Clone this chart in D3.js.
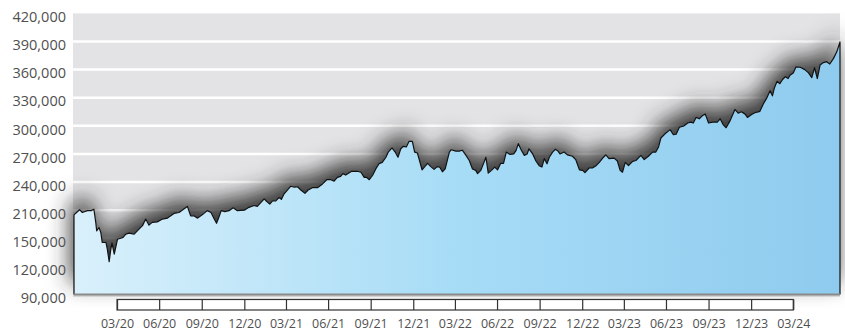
<!DOCTYPE html>
<html>
<head>
<meta charset="utf-8">
<script src="https://cdn.jsdelivr.net/npm/d3@7"></script>
<style>
  html, body { margin: 0; padding: 0; background: #fff; }
  svg { display: block; }
  text { font-family: "Open Sans", "Noto Sans", sans-serif; }
</style>
</head>
<body>
<svg id="chart" width="845" height="331"></svg>
<script>
// ---- data ----
const dates = [
"2019-12-29","2020-01-10","2020-01-16","2020-01-27","2020-02-04","2020-02-10","2020-02-14","2020-02-16","2020-02-21","2020-02-25",
"2020-02-28","2020-03-07","2020-03-10","2020-03-14","2020-03-17","2020-03-20","2020-03-25","2020-04-01","2020-04-08","2020-04-13",
"2020-04-19","2020-04-26","2020-05-07","2020-05-18","2020-05-25","2020-06-01","2020-06-08","2020-06-15","2020-06-26","2020-07-07",
"2020-07-18","2020-07-25","2020-08-01","2020-08-12","2020-08-23","2020-08-30","2020-09-06","2020-09-13","2020-09-21","2020-10-01",
"2020-10-12","2020-10-20","2020-10-27","2020-11-01","2020-11-06","2020-11-11","2020-11-19","2020-11-28","2020-12-07","2020-12-16",
"2020-12-31","2021-01-10","2021-01-21","2021-01-28","2021-02-12","2021-02-17","2021-02-24","2021-03-02","2021-03-09","2021-03-16",
"2021-03-21","2021-03-27","2021-04-03","2021-04-10","2021-04-18","2021-04-25","2021-05-02","2021-05-11","2021-05-18","2021-05-27",
"2021-06-07","2021-06-18","2021-06-27","2021-07-06","2021-07-13","2021-07-20","2021-07-27","2021-08-01","2021-08-07","2021-08-13",
"2021-08-20","2021-09-01","2021-09-09","2021-09-16","2021-09-21","2021-09-27","2021-10-04","2021-10-11","2021-10-18","2021-10-25",
"2021-11-02","2021-11-07","2021-11-15","2021-11-22","2021-11-28","2021-12-04","2021-12-09","2021-12-16","2021-12-22","2021-12-29",
"2022-01-03","2022-01-09","2022-01-19","2022-01-24","2022-01-31","2022-02-07","2022-02-14","2022-02-21","2022-02-26","2022-03-04",
"2022-03-10","2022-03-19","2022-03-23","2022-04-02","2022-04-09","2022-04-16","2022-04-24","2022-05-01","2022-05-08","2022-05-15",
"2022-05-19","2022-05-26","2022-06-06","2022-06-11","2022-06-18","2022-06-25","2022-07-01","2022-07-08","2022-07-14","2022-07-20",
"2022-07-28","2022-08-05","2022-08-10","2022-08-15","2022-08-21","2022-08-28","2022-09-03","2022-09-07","2022-09-15","2022-09-22",
"2022-09-29","2022-10-05","2022-10-10","2022-10-16","2022-10-21","2022-10-28","2022-11-03","2022-11-08","2022-11-13","2022-11-22",
"2022-11-29","2022-12-10","2022-12-17","2022-12-25","2023-01-01","2023-01-06","2023-01-15","2023-01-22","2023-01-30","2023-02-06",
"2023-02-15","2023-02-20","2023-02-27","2023-03-10","2023-03-17","2023-03-23","2023-03-28","2023-04-03","2023-04-10","2023-04-19",
"2023-04-26","2023-05-07","2023-05-14","2023-05-23","2023-06-01","2023-06-08","2023-06-14","2023-06-19","2023-06-28","2023-07-09",
"2023-07-16","2023-07-22","2023-07-29","2023-08-08","2023-08-16","2023-08-23","2023-08-28","2023-09-03","2023-09-10","2023-09-17",
"2023-09-23","2023-09-30","2023-10-09","2023-10-19","2023-10-25","2023-11-01","2023-11-07","2023-11-15","2023-11-26","2023-12-03",
"2023-12-10","2023-12-18","2023-12-23","2024-01-01","2024-01-08","2024-01-19","2024-01-26","2024-02-02","2024-02-10","2024-02-15",
"2024-02-19","2024-02-25","2024-03-02","2024-03-08","2024-03-14","2024-03-20","2024-03-24","2024-03-31","2024-04-06","2024-04-15",
"2024-04-25","2024-05-03","2024-05-10","2024-05-16","2024-05-22","2024-05-28","2024-06-04","2024-06-11","2024-06-18","2024-06-26",
"2024-07-03","2024-07-10"
];
const values = [
205000,210500,207500,209500,209500,211000,197000,188000,191500,186000,
175500,175500,168500,155000,166500,175000,163000,179000,180000,181000,
184500,185500,184500,190000,193500,200500,194000,197000,197500,200500,
201500,204000,206500,207500,211500,214000,204000,204000,201500,205000,
209500,207500,200500,196000,202500,209500,208500,209500,212500,209500,
210000,213000,215000,214000,222000,219500,216500,220000,220000,223500,
221500,227500,231500,235500,234500,235000,231500,228000,231500,234000,
234000,238000,242500,242500,241000,245000,246000,249000,247500,249500,
251500,251500,250500,245000,245000,242500,247000,254000,259500,261000,
266500,272000,276500,272000,266500,275500,278000,277500,283500,283500,
272000,271000,253000,256000,260000,256500,253500,256500,256000,251000,
254000,272000,274500,273000,273000,274000,268500,263000,254000,252500,
249000,252500,266500,249500,252500,256000,253000,260000,260000,272000,
269500,270000,273500,281000,274500,268500,270000,275500,270000,262500,
257500,256000,265000,259500,266500,272000,275000,273500,270000,272000,
269000,267500,264000,253000,252500,250000,255000,255000,257500,261000,
266500,269000,265000,265500,262500,252500,250500,261000,257500,262000,
263000,268500,264000,267500,272000,272000,277500,287000,291500,296000,
290500,291000,298500,300000,303000,304000,303000,309000,307500,311000,
312500,303000,304000,304000,307500,301000,298000,305000,317500,313500,
315000,312500,309000,312000,314000,315500,323000,329000,337500,332000,
340000,347500,345000,349500,352500,350500,354000,356500,363000,362500,
360000,356500,351500,362000,350500,365000,367500,368500,366000,372000,
379000,389500
];
const yTickValues = [120000,150000,180000,210000,240000,270000,300000,330000,360000,390000,420000];
const yTickLabels = ["90,000","120,000","150,000","210,000","240,000","270,000","300,000","330,000","360,000","390,000","420,000"];
const xTickDates = ["2020-03-31","2020-06-30","2020-09-30","2020-12-31","2021-03-31","2021-06-30","2021-09-30","2021-12-31",
  "2022-03-31","2022-06-30","2022-09-30","2022-12-31","2023-03-31","2023-06-30","2023-09-30","2023-12-31","2024-03-31"];
const xTickLabels = ["03/20","06/20","09/20","12/20","03/21","06/21","09/21","12/21",
  "03/22","06/22","09/22","12/22","03/23","06/23","09/23","12/23","03/24"];

// ---- build ----
const parse = d3.timeParse("%Y-%m-%d");
const data = dates.map((d, i) => ({ date: parse(d), value: values[i] }));
const ticksX = xTickDates.map(parse);

const svg = d3.select("#chart");
const plotLeft = 74, plotRight = 840, plotTop = 13.4, plotBottom = 294.5;

const x = d3.scaleTime().domain(d3.extent(data, d => d.date)).range([plotLeft, plotRight]);
const y = d3.scaleLinear().domain([120000, 420000]).range([plotBottom, plotTop]);

const defs = svg.append("defs");
const grad = defs.append("linearGradient").attr("id", "areaGrad")
  .attr("x1", "0%").attr("x2", "100%").attr("y1", "0%").attr("y2", "0%");
grad.append("stop").attr("offset", "0%").attr("stop-color", "#d9f0fb");
grad.append("stop").attr("offset", "50%").attr("stop-color", "#a7dcf6");
grad.append("stop").attr("offset", "100%").attr("stop-color", "#8fcbee");

const f = defs.append("filter").attr("id", "shadow")
  .attr("x", "-10%").attr("y", "-50%").attr("width", "120%").attr("height", "200%");
f.append("feGaussianBlur").attr("in", "SourceAlpha").attr("stdDeviation", 11).attr("result", "blur");
f.append("feOffset").attr("in", "blur").attr("dx", -3).attr("dy", -12).attr("result", "off");
f.append("feFlood").attr("flood-color", "#2e2e2e").attr("flood-opacity", 0.95).attr("result", "col");
f.append("feComposite").attr("in", "col").attr("in2", "off").attr("operator", "in").attr("result", "sh");
const fm = f.append("feMerge");
fm.append("feMergeNode").attr("in", "sh");
fm.append("feMergeNode").attr("in", "SourceGraphic");

// background band
svg.append("rect")
  .attr("x", plotLeft - 1).attr("y", plotTop)
  .attr("width", plotRight - plotLeft + 1).attr("height", plotBottom - plotTop + 2.5)
  .attr("fill", "#e3e3e5");

// white gridlines
svg.append("g").selectAll("line")
  .data(yTickValues.slice(1, -1))
  .join("line")
  .attr("x1", plotLeft - 1).attr("x2", plotRight)
  .attr("y1", d => y(d)).attr("y2", d => y(d))
  .attr("stroke", "#fff").attr("stroke-width", 2.5);

// area with shadow
const area = d3.area().x(d => x(d.date)).y0(plotBottom).y1(d => y(d.value)).curve(d3.curveLinear);
svg.append("path").datum(data)
  .attr("d", area)
  .attr("fill", "url(#areaGrad)")
  .attr("filter", "url(#shadow)");

// outline
const outline = d3.line().x(d => x(d.date)).y(d => y(d.value));
const first = data[0], last = data[data.length - 1];
svg.append("path")
  .attr("d", "M" + x(first.date) + "," + plotBottom + "L" + outline(data).slice(1) + "L" + x(last.date) + "," + plotBottom)
  .attr("fill", "none").attr("stroke", "#111").attr("stroke-width", 1.2).attr("stroke-linejoin", "round");

// baseline
svg.append("line")
  .attr("x1", plotLeft).attr("x2", plotRight)
  .attr("y1", plotBottom).attr("y2", plotBottom)
  .attr("stroke", "#8a8a8a").attr("stroke-width", 2);

// y axis labels
const yAxis = d3.axisLeft(y).tickValues(yTickValues)
  .tickFormat((d, i) => yTickLabels[i]).tickSize(0).tickPadding(0);
const gy = svg.append("g").attr("transform", "translate(66,3.6)").call(yAxis);
gy.select(".domain").remove();
gy.selectAll("text").attr("font-family", "'Open Sans', sans-serif").attr("font-size", "14.5px").attr("fill", "#505050");

// x axis box
const boxTop = 299.5, boxBottom = 310;
svg.append("rect")
  .attr("x", x(ticksX[0])).attr("y", boxTop)
  .attr("width", x(ticksX[ticksX.length - 1]) - x(ticksX[0])).attr("height", boxBottom - boxTop)
  .attr("fill", "#fff").attr("stroke", "#333").attr("stroke-width", 1.2);

const xAxis = d3.axisBottom(x).tickValues(ticksX)
  .tickFormat((d, i) => xTickLabels[i]).tickSizeInner(-(boxBottom - boxTop)).tickSizeOuter(0).tickPadding(9);
const gx = svg.append("g").attr("transform", "translate(0," + boxBottom + ")").call(xAxis);
gx.select(".domain").remove();
gx.selectAll(".tick line").attr("stroke", "#333").attr("stroke-width", 1.2);
gx.selectAll("text").attr("font-family", "'Open Sans', sans-serif").attr("font-size", "12.5px").attr("fill", "#505050");
</script>
</body>
</html>
